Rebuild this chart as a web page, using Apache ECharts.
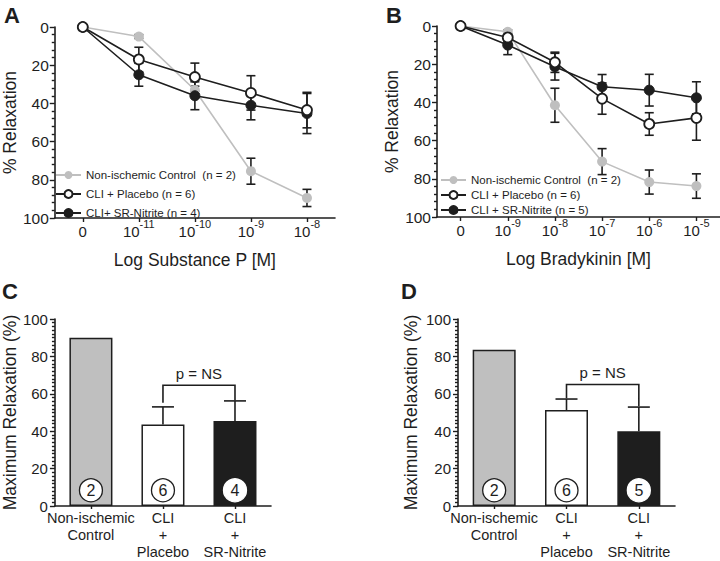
<!DOCTYPE html>
<html><head><meta charset="utf-8">
<script src="https://cdn.jsdelivr.net/npm/echarts/dist/echarts.min.js"></script>
<style>html,body{margin:0;padding:0;background:#fff}#c{width:720px;height:561px}</style>
</head><body><div id="c"></div>
<script>
const FONT = '"Liberation Sans", Arial, sans-serif';
const INK = '#1e1e1e';
const GRAY = '#bfbfbf';

// ---------- Panel A : Substance P ----------
const aCategories = ['0', '10^-11', '10^-10', '10^-9', '10^-8'];
const aControl    = [0, 5, 33, 75.5, 89.5];
const aControlSem = [0, 1, 2, 6.8, 4.5];
const aPlacebo    = [0, 17, 26.2, 34.5, 43.5];
const aPlaceboSem = [0, 6.4, 7.3, 9, 9.3];
const aNitrite    = [0, 25, 36, 41, 45.3];
const aNitriteSem = [0, 6, 7.3, 7.6, 10.5];
const aNames = ['Non-ischemic Control  (n = 2)', 'CLI + Placebo (n = 6)', 'CLI+ SR-Nitrite (n = 4)'];

// ---------- Panel B : Bradykinin ----------
const bCategories = ['0', '10^-9', '10^-8', '10^-7', '10^-6', '10^-5'];
const bControl    = [0, 3, 41.5, 71, 81.7, 83.8];
const bControlSem = [0, 1, 8.9, 6.8, 6.3, 6.4];
const bPlacebo    = [0, 6, 19, 38, 51.3, 48.1];
const bPlaceboSem = [0, 2, 5.3, 8.2, 5.9, 11.7];
const bNitrite    = [0, 10, 21.3, 31.8, 33.6, 37.6];
const bNitriteSem = [0, 5, 7, 6.4, 8.3, 8.4];
const bNames = ['Non-ischemic Control  (n = 2)', 'CLI + Placebo (n = 6)', 'CLI + SR-Nitrite (n = 5)'];

// ---------- Panels C & D : maximum relaxation ----------
const barCategories = ['Non-ischemic\nControl', 'CLI\n+\nPlacebo', 'CLI\n+\nSR-Nitrite'];
const cValues = [90, 43.6, 45.5];
const cSem    = [0, 9.4, 10.7];
const cN      = ['2', '6', '4'];
const dValues = [83.6, 51.3, 40];
const dSem    = [0, 5.9, 12.9];
const dN      = ['2', '6', '5'];
// bracket levels (value units): [bar level, left leg end, right leg end]
const cBracket = [64.6, 55.2, 56.6];
const dBracket = [65, 57.6, 53.4];
const bracketLabel = 'p = NS';

const barColors = [GRAY, '#ffffff', INK];

function supFmt(v) {
  if (v.indexOf('^') < 0) return '{b|' + v + '}';
  const p = v.split('^');
  return '{b|' + p[0] + '}{s|' + p[1] + '}';
}
const supRich = {
  b: { fontSize: 15, lineHeight: 21, verticalAlign: 'bottom', fontFamily: FONT, color: INK },
  s: { fontSize: 11, lineHeight: 12, verticalAlign: 'top', fontFamily: FONT, color: INK }
};

function errRender(params, api) {
  const x = api.value(0), m = api.value(1), s = api.value(2);
  if (!s) return null;
  const t = api.coord([x, m - s]), b = api.coord([x, m + s]);
  const hw = 4.5, st = { stroke: INK, lineWidth: 1.6 };
  return { type: 'group', children: [
    { type: 'line', shape: { x1: t[0], y1: t[1], x2: b[0], y2: b[1] }, style: st },
    { type: 'line', shape: { x1: t[0] - hw, y1: t[1], x2: t[0] + hw, y2: t[1] }, style: st },
    { type: 'line', shape: { x1: b[0] - hw, y1: b[1], x2: b[0] + hw, y2: b[1] }, style: st }
  ]};
}
function barErrRender(params, api) {
  const x = api.value(0), m = api.value(1), s = api.value(2);
  if (!s) return null;
  const b = api.coord([x, m]), t = api.coord([x, m + s]);
  const hw = 11, st = { stroke: INK, lineWidth: 1.6 };
  return { type: 'group', children: [
    { type: 'line', shape: { x1: b[0], y1: b[1], x2: t[0], y2: t[1] }, style: st },
    { type: 'line', shape: { x1: t[0] - hw, y1: t[1], x2: t[0] + hw, y2: t[1] }, style: st }
  ]};
}
function circleRenderFor(labels) {
  return function (params, api) {
    const i = api.value(0);
    const p = api.coord([i, 0]);
    const cy = p[1] - 15.7;
    return { type: 'group', children: [
      { type: 'circle', shape: { cx: p[0], cy: cy, r: 11.5 },
        style: { fill: '#fff', stroke: i === 2 ? '#fff' : INK, lineWidth: 1.3 } },
      { type: 'text', style: { text: labels[i], x: p[0], y: cy + 0.5, align: 'center', verticalAlign: 'middle',
        fontSize: 16, fontFamily: FONT, fill: INK } }
    ]};
  };
}
function bracketRenderFor(br) {
  return function (params, api) {
    const l = api.coord([1, br[1]]), r = api.coord([2, br[2]]);
    const top = api.coord([1, br[0]])[1];
    return { type: 'group', children: [
      { type: 'polyline', shape: { points: [[l[0], l[1]], [l[0], top], [r[0], top], [r[0], r[1]]] },
        style: { stroke: INK, lineWidth: 1.6, fill: null } },
      { type: 'text', style: { text: bracketLabel, x: (l[0] + r[0]) / 2, y: top - 4, align: 'center', verticalAlign: 'bottom',
        fontSize: 15, fontFamily: FONT, fill: INK } }
    ]};
  };
}

const axisLineSt = { show: true, onZero: false, lineStyle: { color: INK, width: 1.6 } };
const tickSt = { color: INK, width: 1.4 };

function lineYAxis(gi, gap) {
  return {
    gridIndex: gi, type: 'value', inverse: true, min: 0, max: 100, interval: 20,
    name: '% Relaxation', nameLocation: 'middle', nameGap: gap, nameRotate: 90,
    nameTextStyle: { fontSize: 17.5, fontFamily: FONT, color: INK },
    axisLine: axisLineSt,
    axisTick: { show: true, length: 5, lineStyle: tickSt },
    minorTick: { show: true, splitNumber: 5, length: 3, lineStyle: tickSt },
    axisLabel: { fontSize: 15.5, margin: 6, color: INK, fontFamily: FONT },
    splitLine: { show: false }
  };
}
function barYAxis(gi, gap) {
  return {
    gridIndex: gi, type: 'value', min: 0, max: 100, interval: 20,
    name: 'Maximum Relaxation (%)', nameLocation: 'middle', nameGap: gap, nameRotate: 90,
    nameTextStyle: { fontSize: 17.5, fontFamily: FONT, color: INK },
    axisLine: axisLineSt,
    axisTick: { show: true, length: 5, lineStyle: tickSt },
    minorTick: { show: true, splitNumber: 10, length: 3, lineStyle: tickSt },
    axisLabel: { fontSize: 15, margin: 7, color: INK, fontFamily: FONT },
    splitLine: { show: false }
  };
}
function lineXAxis(gi, cats, name) {
  return {
    gridIndex: gi, type: 'category', data: cats, boundaryGap: true,
    name: name, nameLocation: 'middle', nameGap: 33,
    nameTextStyle: { fontSize: 17.5, fontFamily: FONT, color: INK },
    axisLine: axisLineSt,
    axisTick: { show: true, alignWithLabel: true, length: 4, lineStyle: tickSt },
    axisLabel: { interval: 0, margin: 0, formatter: supFmt, rich: supRich },
    splitLine: { show: false }
  };
}
function barXAxis(gi) {
  return {
    gridIndex: gi, type: 'category', data: barCategories, boundaryGap: true,
    axisLine: axisLineSt,
    axisTick: { show: true, alignWithLabel: true, length: 3, lineStyle: tickSt },
    axisLabel: { interval: 0, margin: 4, fontSize: 14.5, lineHeight: 16.7, color: INK, fontFamily: FONT },
    splitLine: { show: false }
  };
}

function curveSeries(gi, names, ctl, ctlSem, plc, plcSem, nit, nitSem) {
  const lw = 1.6;
  const errData = (v, s) => v.map((m, i) => [i, m, s[i]]);
  return [
    { type: 'custom', xAxisIndex: gi, yAxisIndex: gi, z: 2, renderItem: errRender, data: errData(ctl, ctlSem), encode: { x: 0, y: 1 } },
    { type: 'custom', xAxisIndex: gi, yAxisIndex: gi, z: 2, renderItem: errRender, data: errData(nit, nitSem), encode: { x: 0, y: 1 } },
    { type: 'custom', xAxisIndex: gi, yAxisIndex: gi, z: 2, renderItem: errRender, data: errData(plc, plcSem), encode: { x: 0, y: 1 } },
    { name: names[0], type: 'line', xAxisIndex: gi, yAxisIndex: gi, z: 3, data: ctl, symbol: 'circle', symbolSize: 10,
      lineStyle: { color: GRAY, width: lw }, itemStyle: { color: GRAY, borderWidth: 0 } },
    { name: names[2], type: 'line', xAxisIndex: gi, yAxisIndex: gi, z: 4, data: nit, symbol: 'circle', symbolSize: 10,
      lineStyle: { color: INK, width: lw }, itemStyle: { color: INK, borderColor: INK, borderWidth: 1 } },
    { name: names[1], type: 'line', xAxisIndex: gi, yAxisIndex: gi, z: 5, data: plc, symbol: 'circle', symbolSize: 10,
      lineStyle: { color: INK, width: lw }, itemStyle: { color: '#ffffff', borderColor: INK, borderWidth: 1.8 } }
  ];
}
function barSeries(gi, vals, sem, ns, br) {
  return [
    { type: 'bar', xAxisIndex: gi, yAxisIndex: gi, barWidth: 43, z: 2,
      data: vals.map((v, i) => ({ value: v, itemStyle: { color: barColors[i], borderColor: INK, borderWidth: 1.5 } })) },
    { type: 'custom', xAxisIndex: gi, yAxisIndex: gi, z: 3, renderItem: barErrRender,
      data: vals.map((v, i) => [i, v, sem[i]]), encode: { x: 0, y: 1 } },
    { type: 'custom', xAxisIndex: gi, yAxisIndex: gi, z: 4, renderItem: circleRenderFor(ns),
      data: ns.map((n, i) => [i, 0]), encode: { x: 0, y: 1 } },
    { type: 'custom', xAxisIndex: gi, yAxisIndex: gi, z: 4, renderItem: bracketRenderFor(br),
      data: [[1, br[0]]], encode: { x: 0, y: 1 } }
  ];
}

const legendBase = {
  orient: 'vertical', itemWidth: 25, itemHeight: 10, padding: 0, selectedMode: false,
  textStyle: { fontSize: 11.5, fontFamily: FONT, color: INK }
};
const letter = (t, l, tp) => ({ text: t, left: l, top: tp, padding: 0,
  textStyle: { fontSize: 22, fontWeight: 'bold', fontFamily: FONT, color: INK } });

const option = {
  animation: false,
  backgroundColor: '#ffffff',
  title: [letter('A', 4, 4), letter('B', 386, 4), letter('C', 2, 280), letter('D', 401, 280)],
  legend: [
    Object.assign({}, legendBase, { left: 55, top: 169, itemGap: 7, data: aNames }),
    Object.assign({}, legendBase, { left: 440, top: 174, itemGap: 3, data: bNames })
  ],
  grid: [
    { left: 53, top: 27, width: 282, height: 191 },
    { left: 437, top: 26, width: 283, height: 191 },
    { left: 54, top: 319, width: 217, height: 187 },
    { left: 458, top: 319, width: 217, height: 187 }
  ],
  xAxis: [
    lineXAxis(0, aCategories, 'Log Substance P [M]'),
    lineXAxis(1, bCategories, 'Log Bradykinin [M]'),
    barXAxis(2),
    barXAxis(3)
  ],
  yAxis: [lineYAxis(0, 34), lineYAxis(1, 34), barYAxis(2, 35), barYAxis(3, 38)],
  series: [].concat(
    curveSeries(0, aNames, aControl, aControlSem, aPlacebo, aPlaceboSem, aNitrite, aNitriteSem),
    curveSeries(1, bNames, bControl, bControlSem, bPlacebo, bPlaceboSem, bNitrite, bNitriteSem),
    barSeries(2, cValues, cSem, cN, cBracket),
    barSeries(3, dValues, dSem, dN, dBracket)
  )
};

const chart = echarts.init(document.getElementById('c'), null, { renderer: 'svg' });
chart.setOption(option);
</script>
</body></html>
